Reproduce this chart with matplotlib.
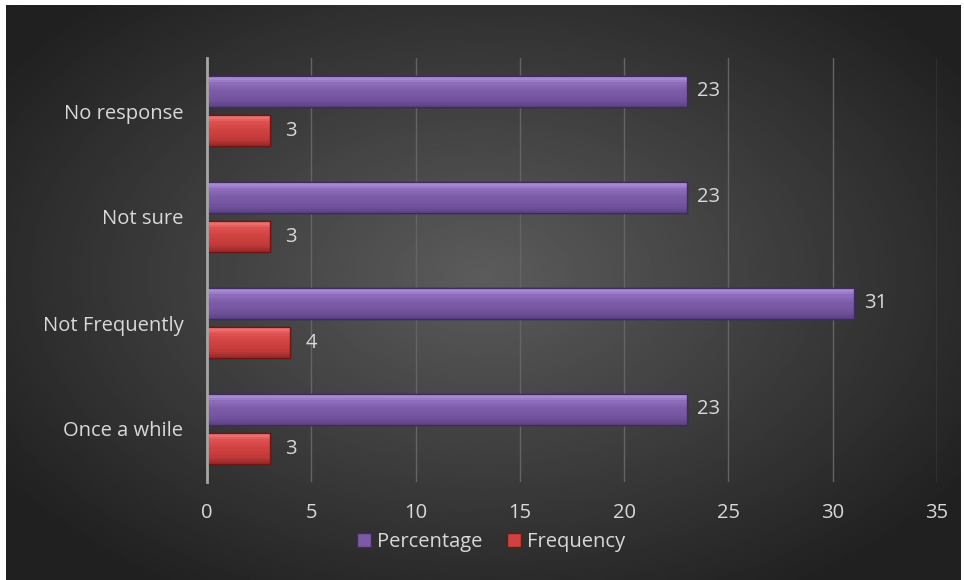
import matplotlib.pyplot as plt
import numpy as np

# Survey responses (bottom to top on the chart)
categories = ['Once a while', 'Not Frequently', 'Not sure', 'No response']
percentage = [23, 31, 23, 23]
frequency = [3, 4, 3, 3]
xticks = [0, 5, 10, 15, 20, 25, 30, 35]

W, H = 964, 580
fig = plt.figure(figsize=(W / 100, H / 100), dpi=100, facecolor='white')

# dark radial background
bg = fig.add_axes([6 / W, 0, 955 / W, 575 / H])
yy, xx = np.mgrid[-1:1:300j, -1:1:500j]
r = np.sqrt((xx * 0.95) ** 2 + (yy * 0.9 + 0.05) ** 2)
shade = np.clip(0.36 - 0.2 * r, 0.13, 0.36)
bg.imshow(shade, cmap='gray', vmin=0, vmax=1, aspect='auto', interpolation='bilinear')
bg.axis('off')

ax = fig.add_axes([207 / W, (H - 482) / H, 730 / W, 424 / H])
ax.patch.set_alpha(0)

y = np.arange(len(categories))
off = 0.184
h = 0.3

purple_stops = ['#b095dc', '#8a6ab8', '#7b5ba8', '#73549f', '#5e4488']
red_stops = ['#f47a7a', '#dc4c4c', '#d04242', '#c53a3a', '#9c2a2a']

def mix(c1, c2, t):
    a = np.array(plt.matplotlib.colors.to_rgb(c1))
    b = np.array(plt.matplotlib.colors.to_rgb(c2))
    return tuple(a + (b - a) * t)

def shade_list(stops, n):
    pos = np.linspace(0, 1, len(stops))
    out = []
    for t in np.linspace(0, 1, n):
        k = min(np.searchsorted(pos, t, side='right') - 1, len(stops) - 2)
        out.append(mix(stops[k], stops[k + 1], (t - pos[k]) / (pos[k + 1] - pos[k])))
    return out

def bevel_bars(ypos, vals, stops, edge, label):
    ax.barh(ypos, vals, height=h, color=stops[2], edgecolor=edge, linewidth=1.0,
            label=label, zorder=3)
    # vertical shading: light top edge fading to a darker bottom
    n = 14
    cols = shade_list(stops, n)
    sh = h / n
    for i, c in enumerate(cols):
        ax.barh(ypos + h / 2 - sh * (i + 0.5), vals, height=sh * 1.05, color=c,
                linewidth=0, zorder=4)
    ax.barh(ypos, vals, height=h, color='none', edgecolor=edge, linewidth=1.0, zorder=5)

bevel_bars(y + off, percentage, purple_stops, '#3f2c5e', 'Percentage')
bevel_bars(y - off, frequency, red_stops, '#6e1616', 'Frequency')

txt = '#d9d9d9'
fs = 14.5
for yi, v in zip(y + off, percentage):
    ax.text(v + 0.5, yi, str(v), va='center', ha='left', color=txt, fontsize=fs,
            family='Open Sans')
for yi, v in zip(y - off, frequency):
    ax.text(v + 0.75, yi, str(v), va='center', ha='left', color=txt, fontsize=fs,
            family='Open Sans')

ax.set_xlim(0, 35)
ax.set_ylim(-0.5, len(categories) - 0.5)
ax.set_xticks(xticks)
ax.set_yticks(y)
ax.set_yticklabels(categories)
ax.tick_params(axis='both', length=0, colors=txt, labelsize=fs)
ax.tick_params(axis='x', pad=15)
ax.tick_params(axis='y', pad=17)
for lab in ax.get_xticklabels() + ax.get_yticklabels():
    lab.set_family('Open Sans')

ax.grid(axis='x', color='#646464', linewidth=1, zorder=0)
ax.set_axisbelow(True)
for s in ['top', 'right', 'bottom']:
    ax.spines[s].set_visible(False)
ax.spines['left'].set_color('#a6a6a6')
ax.spines['left'].set_linewidth(2)
ax.spines['left'].set_zorder(6)

handles, labels = ax.get_legend_handles_labels()
leg = fig.legend(handles[:2], labels[:2], loc='center', bbox_to_anchor=(491 / W, (H - 542) / H),
                 ncol=2, frameon=False, handlelength=0.7, handleheight=0.7,
                 handletextpad=0.3, columnspacing=1.2,
                 prop={'family': 'Open Sans', 'size': fs})
for t in leg.get_texts():
    t.set_color(txt)

fig.savefig('out.png', dpi=100, facecolor='white')
